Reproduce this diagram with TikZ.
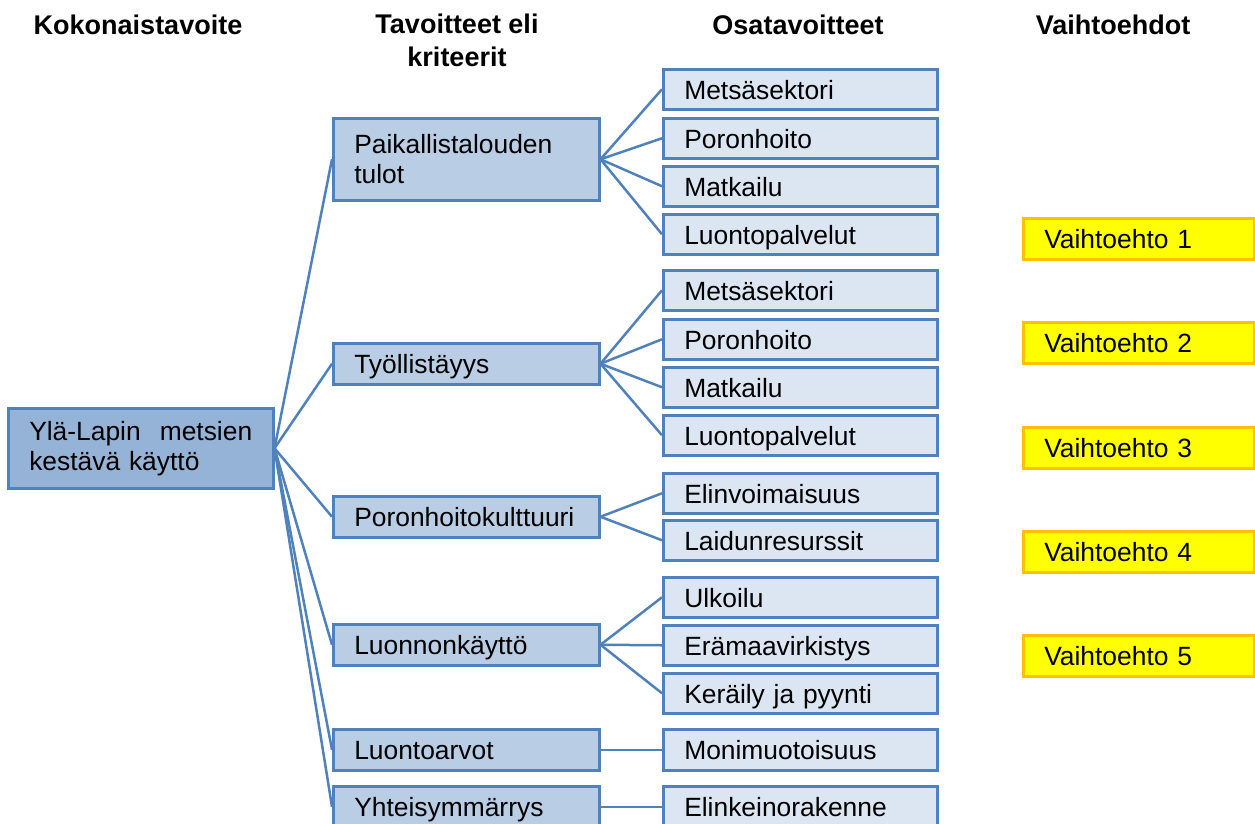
\documentclass[tikz,border=0pt]{standalone}
\usepackage{fontspec}
\setmainfont{Liberation Sans}

\definecolor{edgeblue}{HTML}{4F81BD}
\definecolor{rootfill}{HTML}{95B3D7}
\definecolor{critfill}{HTML}{B9CDE5}
\definecolor{subfill}{HTML}{DCE6F2}
\definecolor{altfill}{HTML}{FFFF00}
\definecolor{altedge}{HTML}{FFC000}

\newcommand{\bodyfont}{\fontsize{26.4}{30}\selectfont}
\newcommand{\headfont}{\fontsize{27}{33}\selectfont\bfseries}

\tikzset{
  box/.style={draw=edgeblue, line width=2.5pt, anchor=north west,
    inner xsep=21pt, inner ysep=0pt, align=left, font=\bodyfont},
  oneline/.style={text height=20pt, text depth=0pt},
  rootbox/.style={box, fill=rootfill, text width=223pt, minimum height=80pt},
  critbox/.style={box, fill=critfill, text width=224pt, minimum height=41pt},
  subbox/.style={box, oneline, fill=subfill, text width=232pt, minimum height=40pt},
  altbox/.style={box, oneline, draw=altedge, fill=altfill, text width=189pt, minimum height=41pt},
  headline/.style={font=\headfont, align=center},
  conn/.style={draw=edgeblue, line width=2.5pt},
}

\begin{document}
\begin{tikzpicture}[x=1pt, y=-1pt]
\useasboundingbox (0,0) rectangle (1255,823);
\clip (0,0) rectangle (1255,823);

% column headings
\node[headline, anchor=base] (h1) at (138,34) {Kokonaistavoite};
\node[headline, anchor=center] (h2) at (457,40.5) {Tavoitteet eli\\kriteerit};
\node[headline, anchor=base] (h3) at (798,34) {Osatavoitteet};
\node[headline, anchor=base] (h4) at (1113,34) {Vaihtoehdot};

% overall goal
\node[rootbox] (root) at (7,407)
  {\makebox[223pt][s]{Ylä-Lapin\hfill metsien}\\kestävä käyttö};

% criteria
\node[critbox, minimum height=82pt] (c1) at (332,117) {Paikallistalouden\\tulot};
\node[critbox, oneline] (c2) at (332,342) {Työllistäyys};
\node[critbox, oneline] (c3) at (332,495) {Poronhoitokulttuuri};
\node[critbox, oneline] (c4) at (332,623) {Luonnonkäyttö};
\node[critbox, oneline] (c5) at (332,728) {Luontoarvot};
\node[critbox, oneline] (c6) at (332,785) {Yhteisymmärrys};

% sub-goals
\node[subbox] (s11) at (662,68)  {Metsäsektori};
\node[subbox] (s12) at (662,117) {Poronhoito};
\node[subbox] (s13) at (662,165) {Matkailu};
\node[subbox] (s14) at (662,213) {Luontopalvelut};

\node[subbox] (s21) at (662,269) {Metsäsektori};
\node[subbox] (s22) at (662,318) {Poronhoito};
\node[subbox] (s23) at (662,366) {Matkailu};
\node[subbox] (s24) at (662,414) {Luontopalvelut};

\node[subbox] (s31) at (662,472) {Elinvoimaisuus};
\node[subbox] (s32) at (662,519) {Laidunresurssit};

\node[subbox] (s41) at (662,576) {Ulkoilu};
\node[subbox] (s42) at (662,624) {Erämaavirkistys};
\node[subbox] (s43) at (662,672) {Keräily ja pyynti};

\node[subbox, minimum height=41pt] (s51) at (662,728) {Monimuotoisuus};
\node[subbox, minimum height=41pt] (s61) at (662,785) {Elinkeinorakenne};

% alternatives
\node[altbox] (a1) at (1022,217) {Vaihtoehto 1};
\node[altbox] (a2) at (1022,321) {Vaihtoehto 2};
\node[altbox] (a3) at (1022,426) {Vaihtoehto 3};
\node[altbox] (a4) at (1022,530) {Vaihtoehto 4};
\node[altbox] (a5) at (1022,634) {Vaihtoehto 5};

% goal to criteria
\foreach \c in {c1,c2,c3,c4,c5,c6}
  \draw[conn] (root.east) -- (\c.west);

% criteria to sub-goals
\foreach \s in {s11,s12,s13,s14}
  \draw[conn] (c1.east) -- (\s.west);
\foreach \s in {s21,s22,s23,s24}
  \draw[conn] (c2.east) -- (\s.west);
\foreach \s in {s31,s32}
  \draw[conn] (c3.east) -- (\s.west);
\foreach \s in {s41,s42,s43}
  \draw[conn] (c4.east) -- (\s.west);
\draw[conn] (c5.east) -- (s51.west);
\draw[conn] (c6.east) -- (s61.west);
\end{tikzpicture}
\end{document}
